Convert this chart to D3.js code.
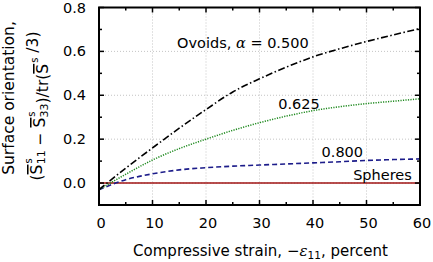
<!DOCTYPE html>
<html>
<head>
<meta charset="utf-8">
<script src="https://cdn.jsdelivr.net/npm/d3@7"></script>
<style>
  html, body { margin: 0; padding: 0; background: #fff; }
  svg { display: block; font-family: "DejaVu Sans", sans-serif; }
</style>
</head>
<body>
<svg id="chart"></svg>
<script>
// strain values (percent) and surface orientation per shape
const strain = [0, 5, 10, 15, 20, 25, 30, 35, 40, 45, 50, 55, 60];
const ovoid500 = [-0.03, 0.068, 0.16, 0.25, 0.335, 0.415, 0.475, 0.528, 0.575, 0.612, 0.645, 0.675, 0.704];
const ovoid625 = [-0.03, 0.04, 0.105, 0.157, 0.2, 0.24, 0.275, 0.305, 0.33, 0.348, 0.362, 0.373, 0.384];
const ovoid800 = [-0.03, 0.015, 0.042, 0.06, 0.07, 0.077, 0.082, 0.087, 0.092, 0.097, 0.103, 0.107, 0.11];
const spheres = [0, 0, 0, 0, 0, 0, 0, 0, 0, 0, 0, 0, 0];

const xTicks = [0, 10, 20, 30, 40, 50, 60];
const yTicks = [0.0, 0.2, 0.4, 0.6, 0.8];

const width = 433, height = 262;
const margin = {top: 7.5, right: 13, bottom: 57, left: 99};
const w = width - margin.left - margin.right;
const h = height - margin.top - margin.bottom;

const svg = d3.select('#chart').attr('width', width).attr('height', height);
const g = svg.append('g').attr('transform', `translate(${margin.left},${margin.top})`);

const x = d3.scaleLinear().domain([0, 60]).range([0, w]);
const y = d3.scaleLinear().domain([-0.1, 0.8]).range([h, 0]);

// dotted grid
g.append('g').selectAll('line').data(xTicks.slice(1, -1)).join('line')
    .attr('x1', d => x(d)).attr('x2', d => x(d)).attr('y1', 0).attr('y2', h)
    .attr('stroke', '#c4c4c4').attr('stroke-width', 1).attr('stroke-dasharray', '1,2');
g.append('g').selectAll('line').data(yTicks.slice(0, -1)).join('line')
    .attr('y1', d => y(d)).attr('y2', d => y(d)).attr('x1', 0).attr('x2', w)
    .attr('stroke', '#c4c4c4').attr('stroke-width', 1).attr('stroke-dasharray', '1,2');

// series
const series = [
    {values: spheres, color: '#a01515', dash: null, sw: 1.6},
    {values: ovoid800, color: '#1c1c8a', dash: '5,3', sw: 1.6},
    {values: ovoid625, color: '#1f8a1f', dash: '1.2,1.3', sw: 1.5},
    {values: ovoid500, color: '#000000', dash: '7,2.5,1.5,2.5', sw: 1.6},
];
const line = d3.line()
    .x((d, i) => x(strain[i]))
    .y(d => y(d))
    .curve(d3.curveMonotoneX);

series.forEach(s => {
    g.append('path')
        .datum(s.values)
        .attr('fill', 'none')
        .attr('stroke', s.color)
        .attr('stroke-width', s.sw)
        .attr('stroke-dasharray', s.dash)
        .attr('d', line);
});

// inward ticks on all four sides
const xMinor = d3.range(0, 61, 5);
const yMinor = d3.range(-0.1, 0.81, 0.1);
const tickG = g.append('g').attr('stroke', '#000');
xMinor.forEach(v => {
    const len = v % 10 === 0 ? 5 : 3;
    tickG.append('line').attr('x1', x(v)).attr('x2', x(v)).attr('y1', h).attr('y2', h - len).attr('stroke-width', 1.5);
    tickG.append('line').attr('x1', x(v)).attr('x2', x(v)).attr('y1', 0).attr('y2', len).attr('stroke-width', 1.5);
});
yMinor.forEach(v => {
    const major = Math.abs(Math.round(v * 10) % 2) === 0;
    const len = major ? 5 : 3;
    tickG.append('line').attr('y1', y(v)).attr('y2', y(v)).attr('x1', 0).attr('x2', len).attr('stroke-width', 1.5);
    tickG.append('line').attr('y1', y(v)).attr('y2', y(v)).attr('x1', w).attr('x2', w - len).attr('stroke-width', 1.5);
});

// frame
g.append('rect').attr('x', 0).attr('y', 0).attr('width', w).attr('height', h)
    .attr('fill', 'none').attr('stroke', '#000').attr('stroke-width', 2);

// tick labels
g.append('g').selectAll('text').data(xTicks).join('text')
    .attr('x', d => x(d) + 2).attr('y', h + 23)
    .attr('text-anchor', 'middle').attr('font-size', 14.5).text(d => d);
g.append('g').selectAll('text').data(yTicks).join('text')
    .attr('x', -13).attr('y', d => y(d) + 5)
    .attr('text-anchor', 'end').attr('font-size', 14.5).text(d => d.toFixed(1));

// curve annotations (data coordinates)
const notes = [
    {t: 'Ovoids, ', alpha: true, x: 14.6, y: 0.614},
    {t: '0.625', x: 33.5, y: 0.336},
    {t: '0.800', x: 41.6, y: 0.118},
    {t: 'Spheres', x: 47.5, y: 0.015},
];
notes.forEach(n => {
    const t = g.append('text').attr('x', x(n.x)).attr('y', y(n.y)).attr('font-size', 14.5);
    t.append('tspan').text(n.t);
    if (n.alpha) {
        t.append('tspan').attr('font-style', 'italic').attr('font-family', '"DejaVu Serif", serif').text('α');
        t.append('tspan').text(' = 0.500');
    }
});

// x axis title
const xt = svg.append('text')
    .attr('x', margin.left + w / 2 + 1).attr('y', 256)
    .attr('text-anchor', 'middle').attr('font-size', 15);
xt.append('tspan').text('Compressive strain, −');
xt.append('tspan').attr('font-style', 'italic').attr('font-family', '"DejaVu Serif", serif').text('ε');
xt.append('tspan').attr('font-size', 10.5).attr('dy', 3).text('11');
xt.append('tspan').attr('dy', -3).text(', percent');

// y axis title (two lines)
svg.append('text')
    .attr('transform', 'translate(14,98) rotate(-90)')
    .attr('text-anchor', 'middle').attr('font-size', 15.5)
    .text('Surface orientation,');

const yl = svg.append('text')
    .attr('transform', 'translate(42,106) rotate(-90)')
    .attr('text-anchor', 'middle').attr('font-size', 15.5);
function sBar(sub) {
    yl.append('tspan').attr('text-decoration', 'overline').text('S');
    yl.append('tspan').attr('font-size', 10).attr('dx', 1).attr('dy', -10).text('s');
    if (sub) {
        yl.append('tspan').attr('font-size', 11).attr('dx', -6).attr('dy', 13).text(sub);
        yl.append('tspan').attr('dy', -3).text('');
    } else {
        yl.append('tspan').attr('dy', 10).text('');
    }
}
yl.append('tspan').text('(');
sBar('11');
yl.append('tspan').text(' − ');
sBar('33');
yl.append('tspan').text(')/tr(');
sBar(null);
yl.append('tspan').text(' /3)');
</script>
</body>
</html>
